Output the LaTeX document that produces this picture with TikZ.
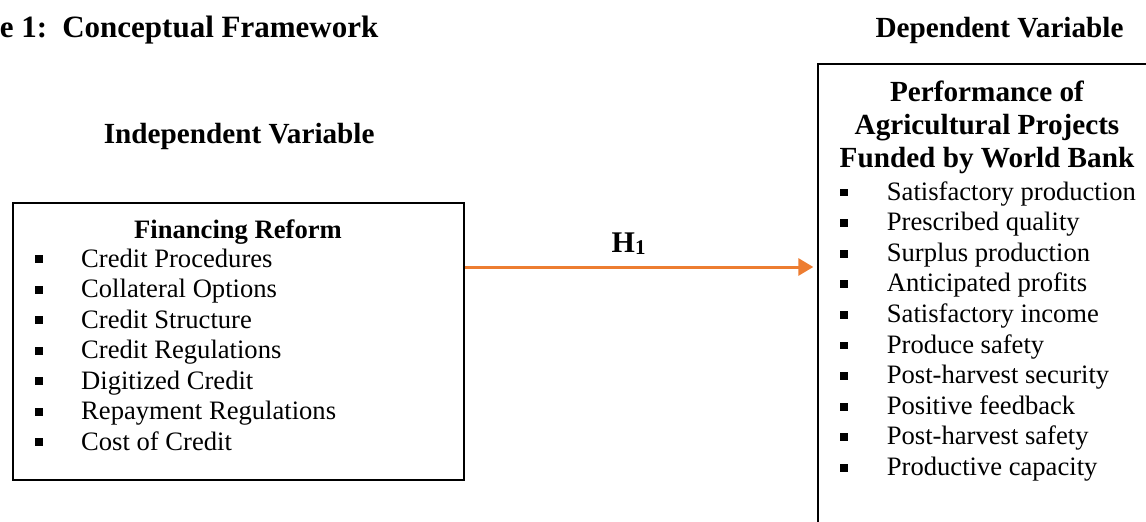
\documentclass[tikz,border=0pt]{standalone}
\usepackage{fontspec}
\setmainfont{Liberation Serif}
\usetikzlibrary{arrows.meta}
\definecolor{accent}{HTML}{ED7D31}
\frenchspacing

\begin{document}
\begin{tikzpicture}[x=1pt,y=-1pt,
  frame/.style={draw=black, line width=2pt, inner sep=0pt, anchor=north west},
  heading/.style={font=\fontsize{29.2}{33}\selectfont\bfseries, inner sep=0pt, anchor=base},
  entry/.style={font=\fontsize{26.6}{30}\selectfont, inner sep=0pt, anchor=base west},
  bul/.style={fill=black, inner sep=0pt, minimum size=7.8pt},
  link/.style={draw=accent, line width=3pt, -{Triangle[length=15pt,width=17pt]}}]

\useasboundingbox (0,0) rectangle (1146,522);
\clip (0,0) rectangle (1146,522);

% captions above the two columns
\node[heading, anchor=base east, font=\fontsize{31}{34}\selectfont\bfseries] (title) at (378.5,37)
  {Figure 1:\hspace{15pt}Conceptual Framework};
\node[heading] (dephead) at (999.5,37) {Dependent Variable};
\node[heading] (indhead) at (239.2,143.3) {Independent Variable};

% independent variable box
\node[frame, minimum width=451pt, minimum height=277.3pt] (fin) at (12.3,201.7) {};
\node[heading, font=\fontsize{26.6}{30}\selectfont\bfseries] (finhead) at (238,238.3) {Financing Reform};
\foreach \t [count=\i] in {Credit Procedures, Collateral Options, Credit Structure,
    Credit Regulations, Digitized Credit, Repayment Regulations, Cost of Credit} {
  \pgfmathsetmacro\yy{267.3+30.5*(\i-1)}
  \node[bul] (lb\i) at (39,\yy-8) {};
  \node[entry] (l\i) at (81,\yy) {\t};
}

% dependent variable box
\node[frame, minimum width=340pt, minimum height=500pt] (perf) at (817.3,62.7) {};
\node[heading] (p1) at (987,101.7) {Performance of};
\node[heading] (p2) at (987,134.7) {Agricultural Projects};
\node[heading] (p3) at (987,167.7) {Funded by World Bank};
\foreach \t [count=\i] in {Satisfactory production, Prescribed quality, Surplus production,
    Anticipated profits, Satisfactory income, Produce safety, Post-harvest security,
    Positive feedback, Post-harvest safety, Productive capacity} {
  \pgfmathsetmacro\yy{200+30.6*(\i-1)}
  \node[bul] (rb\i) at (844,\yy-7.5) {};
  \node[entry] (r\i) at (886.7,\yy) {\t};
}

% hypothesis arrow
\coordinate (hline) at (0,267);
\draw[link, shorten >=4pt] (fin.east |- hline) -- (perf.west |- hline);
\node[inner sep=0pt, anchor=base west] (hyp) at (611.5,252.5)
  {\fontsize{30}{32}\selectfont\bfseries H\raisebox{-2pt}{\fontsize{21}{22}\selectfont 1}};

\end{tikzpicture}
\end{document}
